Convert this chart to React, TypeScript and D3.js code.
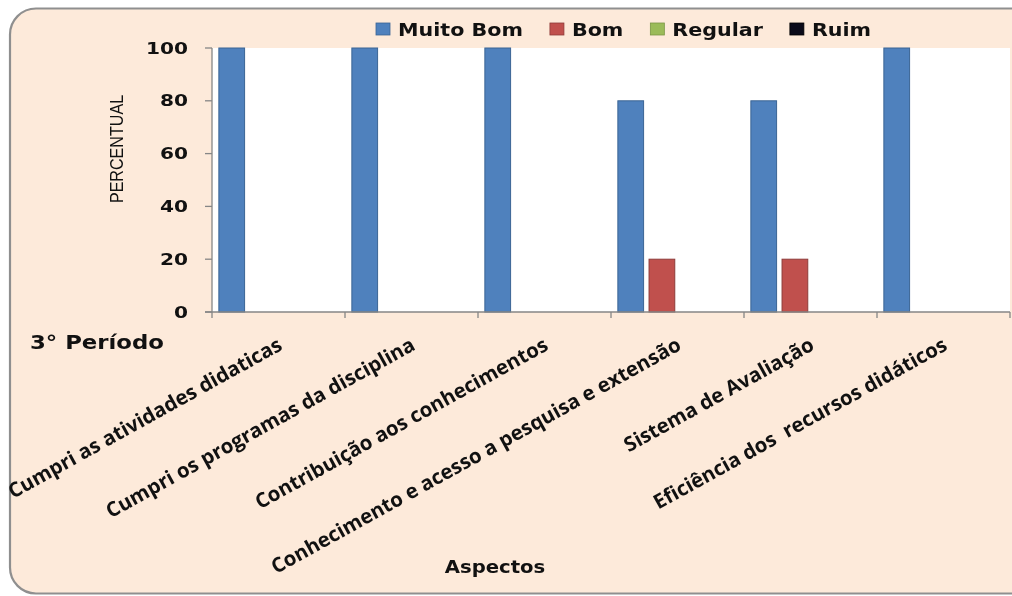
import React, { useEffect, useRef } from 'react';
import * as d3 from 'd3';

const categories = [
  'Cumpri as atividades didaticas',
  'Cumpri os programas da disciplina',
  'Contribuição aos conhecimentos',
  'Conhecimento e acesso a pesquisa e extensão',
  'Sistema de Avaliação',
  'Eficiência dos  recursos didáticos',
];
const seriesNames = ['Muito Bom', 'Bom', 'Regular', 'Ruim'];
const muitoBom = [100, 100, 100, 80, 80, 100];
const bom = [0, 0, 0, 20, 20, 0];
const regular = [0, 0, 0, 0, 0, 0];
const ruim = [0, 0, 0, 0, 0, 0];
const yTicks = [0, 20, 40, 60, 80, 100];

const fills = ['#4F81BD', '#C0504D', '#9BBB59', '#0B0B1A'];
const strokes = ['#3A6494', '#8E3B39', '#7A9645', '#000000'];

const W = 1012;
const H = 596;
const plot = { left: 212, right: 1010, top: 48, bottom: 312 };

export default function App() {
  const ref = useRef<SVGSVGElement>(null);

  useEffect(() => {
    if (!ref.current) return;
    const svg = d3.select(ref.current);
    svg.selectAll('*').remove();

    const values = [muitoBom, bom, regular, ruim];

    // frame (right side runs off the picture)
    svg.append('rect')
      .attr('x', 10).attr('y', 8.5)
      .attr('width', 1030).attr('height', 585)
      .attr('rx', 26).attr('ry', 26)
      .attr('fill', '#FDEADA')
      .attr('stroke', '#8f8f8f').attr('stroke-width', 2.2);

    const x0 = d3.scaleBand<string>().domain(categories).range([plot.left, plot.right]).padding(0);
    const x1 = d3.scaleBand<string>().domain(seriesNames).range([0, x0.bandwidth()])
      .paddingInner(0.175).paddingOuter(0.22);
    const y = d3.scaleLinear().domain([0, 100]).range([plot.bottom, plot.top]);

    svg.append('rect')
      .attr('x', plot.left).attr('y', plot.top)
      .attr('width', plot.right - plot.left).attr('height', plot.bottom - plot.top)
      .attr('fill', '#ffffff');

    // bars
    seriesNames.forEach((s, si) => {
      svg.append('g').selectAll('rect')
        .data(values[si])
        .enter().append('rect')
        .attr('x', (_, i) => (x0(categories[i]) as number) + (x1(s) as number))
        .attr('y', d => y(d))
        .attr('width', x1.bandwidth())
        .attr('height', d => y(0) - y(d))
        .attr('fill', fills[si])
        .attr('stroke', strokes[si])
        .attr('stroke-width', 1)
        .attr('display', d => (d > 0 ? null : 'none'));
    });

    // axes
    const axisColor = '#868686';
    svg.append('line')
      .attr('x1', plot.left).attr('x2', plot.left)
      .attr('y1', plot.top).attr('y2', plot.bottom + 6)
      .attr('stroke', axisColor).attr('stroke-width', 1.3);
    svg.append('line')
      .attr('x1', plot.left - 7).attr('x2', plot.right)
      .attr('y1', plot.bottom).attr('y2', plot.bottom)
      .attr('stroke', axisColor).attr('stroke-width', 1.3);

    svg.append('g').selectAll('line')
      .data(yTicks).enter().append('line')
      .attr('x1', plot.left - 7).attr('x2', plot.left)
      .attr('y1', d => y(d)).attr('y2', d => y(d))
      .attr('stroke', axisColor).attr('stroke-width', 1.3);

    const catEdges = categories.map(c => (x0(c) as number) + x0.bandwidth());
    svg.append('g').selectAll('line')
      .data(catEdges).enter().append('line')
      .attr('x1', d => d).attr('x2', d => d)
      .attr('y1', plot.bottom).attr('y2', plot.bottom + 6)
      .attr('stroke', axisColor).attr('stroke-width', 1.3);

    // y tick labels
    svg.append('g').selectAll('text')
      .data(yTicks).enter().append('text')
      .attr('transform', d => `translate(188,${y(d)}) scale(1.3,1)`)
      .attr('dy', '0.36em')
      .attr('text-anchor', 'end')
      .attr('font-family', 'DejaVu Sans')
      .attr('font-weight', 'bold')
      .attr('font-size', 15.5)
      .attr('fill', '#111')
      .text(d => d);

    // y title
    svg.append('text')
      .attr('transform', 'translate(123,149) rotate(-90) scale(0.92,1.1)')
      .attr('text-anchor', 'middle')
      .attr('font-family', 'Liberation Sans')
      .attr('font-size', 17.5)
      .attr('fill', '#111')
      .text('PERCENTUAL');

    // category labels
    svg.append('g').selectAll('text')
      .data(categories).enter().append('text')
      .attr('transform', c => `translate(${(x0(c) as number) + x0.bandwidth() / 2 + 5},349) rotate(-29)`)
      .attr('text-anchor', 'end')
      .attr('font-family', 'Open Sans')
      .attr('font-weight', 'bold')
      .attr('font-size', 20.3)
      .attr('fill', '#111')
      .attr('xml:space', 'preserve')
      .style('white-space', 'pre')
      .text(c => c);

    // period label
    svg.append('text')
      .attr('transform', 'translate(30,349) scale(1.2,1)')
      .attr('font-family', 'DejaVu Sans')
      .attr('font-weight', 'bold')
      .attr('font-size', 19)
      .attr('fill', '#111')
      .text('3° Período');

    // x title
    svg.append('text')
      .attr('transform', 'translate(495,573) scale(1.13,1)')
      .attr('text-anchor', 'middle')
      .attr('font-family', 'DejaVu Sans')
      .attr('font-weight', 'bold')
      .attr('font-size', 17.4)
      .attr('fill', '#111')
      .text('Aspectos');

    // legend
    const legend = svg.append('g');
    let lx = 376;
    seriesNames.forEach((s, si) => {
      legend.append('rect')
        .attr('x', lx).attr('y', 23)
        .attr('width', 14).attr('height', 12)
        .attr('fill', fills[si])
        .attr('stroke', strokes[si]).attr('stroke-width', 0.8);
      const t = legend.append('text')
        .attr('transform', `translate(${lx + 22},36) scale(1.16,1)`)
        .attr('font-family', 'DejaVu Sans')
        .attr('font-weight', 'bold')
        .attr('font-size', 17.8)
        .attr('fill', '#111')
        .text(s);
      const w = (t.node() as SVGTextElement).getComputedTextLength() * 1.16;
      lx = lx + 22 + w + 27;
    });
  }, []);

  return (
    <div style={{ position: 'fixed', left: 0, top: 0 }}>
      <svg ref={ref} width={W} height={H} style={{ display: 'block' }} />
    </div>
  );
}
